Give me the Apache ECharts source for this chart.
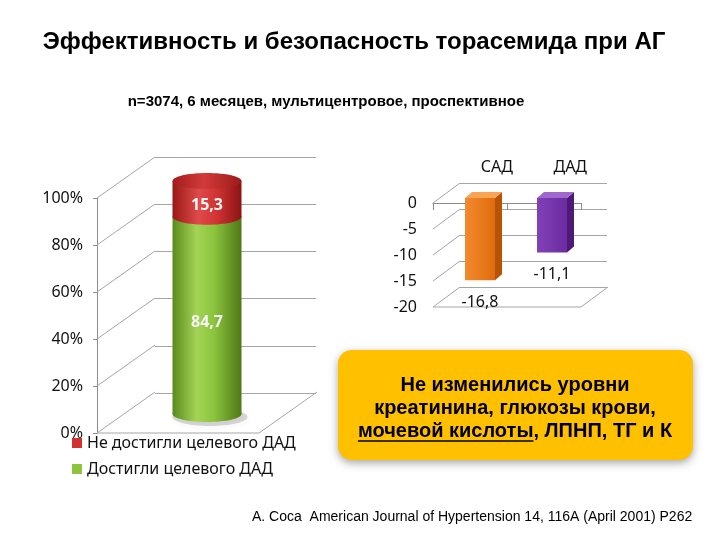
<!DOCTYPE html>
<html><head><meta charset="utf-8">
<script src="https://cdn.jsdelivr.net/npm/echarts@6/dist/echarts.min.js"></script>
<style>html,body{margin:0;padding:0;background:#fff}#c{width:720px;height:540px}</style>
</head><body><div id="c"></div>
<script>
// ---------- data ----------
const titleText = 'Эффективность и безопасность торасемида при АГ';
const subtitleText = 'n=3074, 6 месяцев, мультицентровое, проспективное';
const sourceText = 'A. Coca  American Journal of Hypertension 14, 116A (April 2001) P262';
const noteLine1 = 'Не изменились уровни';
const noteLine2 = 'креатинина, глюкозы крови,';
const noteLine3a = 'мочевой кислоты';
const noteLine3b = ', ЛПНП, ТГ и К';

const targetCats = ['Все пациенты'];
const reachedName = 'Достигли целевого ДАД';
const notReachedName = 'Не достигли целевого ДАД';
const reached = [84.7];
const notReached = [15.3];
const pctTicks = [0, 20, 40, 60, 80, 100];

const bpCats = ['САД', 'ДАД'];
const bpChange = [-16.8, -11.1];
const bpTicks = [-20, -15, -10, -5, 0];

// ---------- style ----------
const FONT = '"Noto Sans", "DejaVu Sans", sans-serif';
const ARIAL = '"Liberation Sans", Arial, sans-serif';
const GRID_LINE = '#a6a6a6';
const LG = echarts.graphic.LinearGradient;
const greenFill = new LG(0, 0, 1, 0, [
  {offset: 0, color: '#5a8a1c'}, {offset: 0.35, color: '#a3d455'},
  {offset: 0.6, color: '#8cc43e'}, {offset: 1, color: '#4e7816'}]);
const redFill = new LG(0, 0, 1, 0, [
  {offset: 0, color: '#9a1818'}, {offset: 0.38, color: '#e04a4a'},
  {offset: 0.65, color: '#d03232'}, {offset: 1, color: '#8a1414'}]);
const redCap = new LG(0, 0, 1, 0, [
  {offset: 0, color: '#a51c1c'}, {offset: 0.45, color: '#d23a3a'}, {offset: 1, color: '#9c1a1a'}]);
const boxStyles = [
  {front: new LG(0, 0, 1, 0, [{offset: 0, color: '#f28a2e'}, {offset: 1, color: '#e06c0c'}]), side: '#b65306', top: '#f6a456'},
  {front: new LG(0, 0, 1, 0, [{offset: 0, color: '#8240b8'}, {offset: 1, color: '#6a2ca0'}]), side: '#4e1a78', top: '#a068cc'}
];

function fmt(v) { return String(v).replace('.', ','); }

// 3D wall lines drawn from tick values (front plane -> back plane)
function frameItem(dx, dy, minTick) {
  return function (params, api) {
    const cs = params.coordSys;
    const t = api.value(1);
    const y = api.coord([0, t])[1];
    const left = cs.x, right = cs.x + cs.width;
    const ch = [{type: 'line', shape: {x1: left, y1: y, x2: left + dx, y2: y + dy}, style: {stroke: GRID_LINE, lineWidth: 1}}];
    if (t === minTick) {
      ch.push({type: 'line', shape: {x1: left, y1: y, x2: right, y2: y}, style: {stroke: GRID_LINE, lineWidth: 1}});
      ch.push({type: 'line', shape: {x1: right, y1: y, x2: right + dx, y2: y + dy}, style: {stroke: GRID_LINE, lineWidth: 1}});
    }
    return {type: 'group', children: ch};
  };
}

function cylinderItem(fill, capFill, isTop, isBottom) {
  return function (params, api) {
    const i = api.value(0);
    const x = api.coord([i, 0])[0];
    const yBase = api.coord([i, api.value(1)])[1];
    const yTop = api.coord([i, api.value(2)])[1];
    const w = 69, ry = 8, x0 = x - w / 2;
    const ch = [];
    if (isBottom) {
      ch.push({type: 'ellipse', shape: {cx: x + 3, cy: yBase + 3, rx: w / 2 + 3, ry: ry + 1},
        style: {fill: 'rgba(0,0,0,0.15)', shadowBlur: 8, shadowColor: 'rgba(0,0,0,0.35)'}});
    }
    ch.push({type: 'rect', shape: {x: x0, y: yTop, width: w, height: yBase - yTop}, style: {fill: fill}});
    ch.push({type: 'ellipse', shape: {cx: x, cy: yBase, rx: w / 2, ry: ry}, style: {fill: fill}});
    if (isTop) ch.push({type: 'ellipse', shape: {cx: x, cy: yTop, rx: w / 2, ry: ry}, style: {fill: capFill}});
    ch.push({type: 'text', style: {text: fmt(api.value(3)), x: x, y: (yTop + yBase) / 2 + 7,
      align: 'center', verticalAlign: 'middle', textAlign: 'center', textVerticalAlign: 'middle',
      fill: '#f4f4f4', font: 'bold 16px ' + FONT}});
    return {type: 'group', children: ch};
  };
}

function boxItem(params, api) {
  const i = api.value(0), v = api.value(1);
  const st = boxStyles[i];
  const p0 = api.coord([i, 0]), p1 = api.coord([i, v]);
  const w = 30, dx = 7, dy = -6;
  const x0 = p0[0] - w / 2, x1 = p0[0] + w / 2, yT = p0[1], yB = p1[1];
  return {type: 'group', children: [
    {type: 'polygon', shape: {points: [[x1, yT], [x1 + dx, yT + dy], [x1 + dx, yB + dy], [x1, yB]]}, style: {fill: st.side}},
    {type: 'polygon', shape: {points: [[x0, yT], [x0 + dx, yT + dy], [x1 + dx, yT + dy], [x1, yT]]}, style: {fill: st.top}},
    {type: 'rect', shape: {x: x0, y: yT, width: w, height: yB - yT}, style: {fill: st.front}},
    {type: 'text', style: {text: fmt(v), x: p0[0], y: yB + 22, align: 'center', verticalAlign: 'middle',
      textAlign: 'center', textVerticalAlign: 'middle', fill: '#111', font: '16px ' + FONT}}
  ]};
}

// measure for underline
const mctx = document.createElement('canvas').getContext('2d');
const noteFont = 'bold 20px ' + ARIAL;
mctx.font = noteFont;
const wA = mctx.measureText(noteLine3a).width;
const wB = mctx.measureText(noteLine3b).width;
const noteCx = 515;
const l3x = noteCx - (wA + wB) / 2;

const hiddenVal = (gi, min, max, interval) => ({gridIndex: gi, type: 'value', min: min, max: max, interval: interval,
  axisLine: {show: false}, axisTick: {show: false}, axisLabel: {show: false}, splitLine: {show: false}});
const hiddenCat = (gi, data) => ({gridIndex: gi, type: 'category', data: data, show: false});

const chart = echarts.init(document.getElementById('c'), null, {renderer: 'canvas'});
chart.setOption({
  backgroundColor: '#ffffff',
  animation: false,
  grid: [
    {left: 97, top: 198, width: 162, height: 235},   // 0 front left
    {left: 155, top: 157, width: 161, height: 236},  // 1 back left
    {left: 126, top: 181, width: 162, height: 233},  // 2 cylinder
    {left: 433, top: 203, width: 148, height: 104},  // 3 front right
    {left: 460, top: 183, width: 147, height: 104},  // 4 back right
    {left: 444, top: 198, width: 144, height: 98}    // 5 boxes
  ],
  xAxis: [
    hiddenCat(0, targetCats),
    hiddenCat(1, targetCats),
    hiddenCat(2, targetCats),
    {gridIndex: 3, type: 'category', data: bpCats, axisLine: {show: true, onZero: true, lineStyle: {color: '#8c8c8c'}},
      axisTick: {show: true, length: 7, lineStyle: {color: '#8c8c8c'}}, axisLabel: {show: false}},
    {gridIndex: 4, type: 'category', data: bpCats, position: 'top', axisLine: {show: false}, axisTick: {show: false},
      axisLabel: {show: true, margin: 8, fontSize: 16, color: '#111', fontFamily: FONT}},
    hiddenCat(5, bpCats)
  ],
  yAxis: [
    {gridIndex: 0, type: 'value', min: 0, max: 100, interval: 20,
      axisLine: {show: true, lineStyle: {color: '#8c8c8c'}}, axisTick: {show: true, length: 4, lineStyle: {color: '#8c8c8c'}},
      axisLabel: {formatter: '{value}%', fontSize: 16, color: '#111', margin: 14, fontFamily: FONT}, splitLine: {show: false}},
    {gridIndex: 1, type: 'value', min: 0, max: 100, interval: 20, axisLine: {show: false}, axisTick: {show: false},
      axisLabel: {show: false}, splitLine: {show: true, lineStyle: {color: GRID_LINE}}},
    hiddenVal(2, 0, 100, 20),
    {gridIndex: 3, type: 'value', min: -20, max: 0, interval: 5, axisLine: {show: false}, axisTick: {show: false},
      axisLabel: {fontSize: 16, color: '#111', margin: 16, fontFamily: FONT}, splitLine: {show: false}},
    {gridIndex: 4, type: 'value', min: -20, max: 0, interval: 5, axisLine: {show: false}, axisTick: {show: false},
      axisLabel: {show: false}, splitLine: {show: true, lineStyle: {color: GRID_LINE}}},
    hiddenVal(5, -20, 0, 5)
  ],
  legend: {
    orient: 'vertical', left: 72, top: 435, padding: 0, itemWidth: 10, itemHeight: 10, itemGap: 10,
    data: [notReachedName, reachedName],
    textStyle: {fontSize: 16, color: '#111', fontFamily: FONT},
    icon: 'rect'
  },
  series: [
    {type: 'custom', name: 'frameL', xAxisIndex: 0, yAxisIndex: 0, z: 1, silent: true,
      renderItem: frameItem(58, -41, pctTicks[0]), data: pctTicks.map(t => [0, t])},
    {type: 'custom', name: 'frameR', xAxisIndex: 3, yAxisIndex: 3, z: 1, silent: true,
      renderItem: frameItem(27, -20, bpTicks[0]), data: bpTicks.map(t => [0, t])},
    {type: 'custom', name: reachedName, xAxisIndex: 2, yAxisIndex: 2, z: 5,
      itemStyle: {color: '#8cc43e'},
      renderItem: cylinderItem(greenFill, null, false, true),
      encode: {x: 0, y: 2},
      data: reached.map((v, i) => [i, 0, v, v])},
    {type: 'custom', name: notReachedName, xAxisIndex: 2, yAxisIndex: 2, z: 6,
      itemStyle: {color: '#d03232'},
      renderItem: cylinderItem(redFill, redCap, true, false),
      encode: {x: 0, y: 2},
      data: notReached.map((v, i) => [i, reached[i], reached[i] + v, v])},
    {type: 'custom', name: 'bp', xAxisIndex: 5, yAxisIndex: 5, z: 6,
      renderItem: boxItem, encode: {x: 0, y: 1},
      data: bpChange.map((v, i) => [i, v])}
  ],
  graphic: [
    {type: 'text', z: 10, style: {text: titleText, x: 354, y: 42, textAlign: 'center', textVerticalAlign: 'middle',
      align: 'center', verticalAlign: 'middle', font: 'bold 24px ' + ARIAL, fill: '#000'}},
    {type: 'text', z: 10, style: {text: subtitleText, x: 326, y: 102, textAlign: 'center', textVerticalAlign: 'middle',
      align: 'center', verticalAlign: 'middle', font: 'bold 15px ' + ARIAL, fill: '#000'}},
    {type: 'rect', z: 10, shape: {x: 338, y: 350, width: 355, height: 110, r: 14},
      style: {fill: '#ffc000', shadowBlur: 8, shadowOffsetY: 3, shadowColor: 'rgba(0,0,0,0.35)'}},
    {type: 'text', z: 11, style: {text: noteLine1, x: noteCx, y: 385, textAlign: 'center', textVerticalAlign: 'middle',
      align: 'center', verticalAlign: 'middle', font: noteFont, fill: '#000'}},
    {type: 'text', z: 11, style: {text: noteLine2, x: noteCx, y: 408, textAlign: 'center', textVerticalAlign: 'middle',
      align: 'center', verticalAlign: 'middle', font: noteFont, fill: '#000'}},
    {type: 'text', z: 11, style: {text: noteLine3a + noteLine3b, x: l3x, y: 431, textAlign: 'left', textVerticalAlign: 'middle',
      align: 'left', verticalAlign: 'middle', font: noteFont, fill: '#000'}},
    {type: 'line', z: 11, shape: {x1: l3x, y1: 441, x2: l3x + wA, y2: 441}, style: {stroke: '#000', lineWidth: 1.5}},
    {type: 'text', z: 10, style: {text: sourceText, x: 252, y: 517, textAlign: 'left', textVerticalAlign: 'middle',
      align: 'left', verticalAlign: 'middle', font: '14px ' + ARIAL, fill: '#000'}}
  ]
});
</script></body></html>
